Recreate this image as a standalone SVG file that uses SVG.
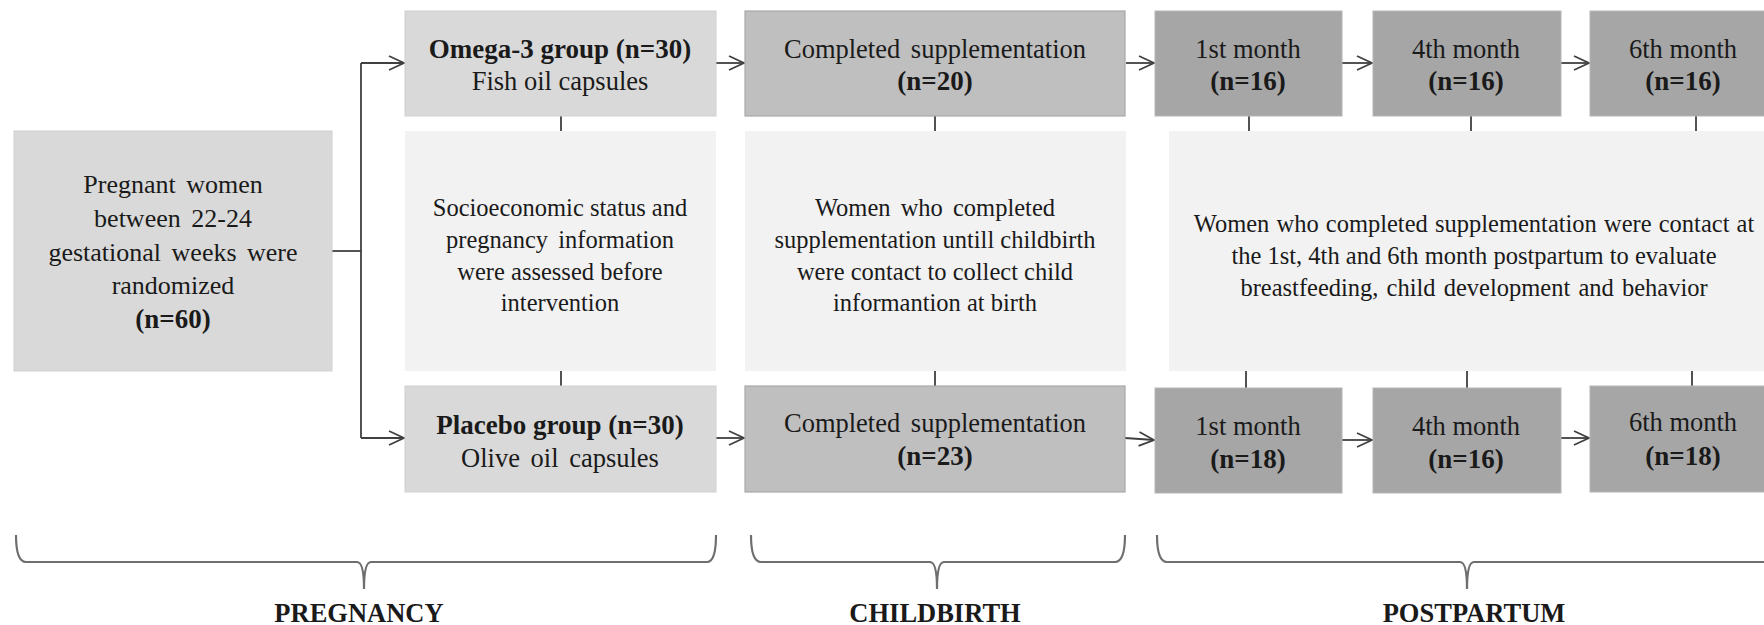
<svg xmlns="http://www.w3.org/2000/svg" width="1764" height="625" viewBox="0 0 1764 625">
<style>
text{font-family:"Liberation Serif","Times New Roman",serif;fill:#1a1a1a;text-anchor:middle}
.h{font-size:26.5px}
.b{font-size:27px;font-weight:bold}
.m{font-size:24.5px}
.l{font-size:26px;word-spacing:4px}
.lab{font-size:26.5px;font-weight:bold}
.g1{fill:#d9d9d9;stroke:#d0d0d0;stroke-width:1}
.g2{fill:#bfbfbf;stroke:#a9a9a9;stroke-width:1.2}
.g3{fill:#a6a6a6;stroke:#b5b5b5;stroke-width:1}
.g4{fill:#f2f2f2}
.c{stroke:#404040;stroke-width:1.8;fill:none}
.br{stroke:#6e6e6e;stroke-width:2.2;fill:none}
</style>
<defs>
<marker id="arr" markerUnits="userSpaceOnUse" markerWidth="20" markerHeight="20" refX="16" refY="8" orient="auto">
<path d="M1,1 L16,8 L1,15" fill="none" stroke="#404040" stroke-width="1.8"/>
</marker>
</defs>

<g id="connectors">
<path class="c" d="M332,251 H361"/>
<path class="c" d="M361,63 V438"/>
<path class="c" d="M361,63 H404" marker-end="url(#arr)"/>
<path class="c" d="M361,438 H404" marker-end="url(#arr)"/>
<path class="c" d="M716,63 H744" marker-end="url(#arr)"/>
<path class="c" d="M1126,63 H1154" marker-end="url(#arr)"/>
<path class="c" d="M1342,63 H1372" marker-end="url(#arr)"/>
<path class="c" d="M1561,63 H1589" marker-end="url(#arr)"/>
<path class="c" d="M716,438 H744" marker-end="url(#arr)"/>
<path class="c" d="M1125,438 L1154,440" marker-end="url(#arr)"/>
<path class="c" d="M1342,440 H1372" marker-end="url(#arr)"/>
<path class="c" d="M1561,438 H1589" marker-end="url(#arr)"/>
<path class="c" d="M561,116 V131 M561,371 V386 M935,116 V131 M935,371 V386 M1249,116 V131 M1246,371 V388 M1471,116 V131 M1467,371 V388 M1696,116 V131 M1692,371 V386" stroke-width="1.5"/>
</g>

<g id="start">
<rect class="g1" x="14" y="131" width="318" height="240"/>
<text class="l" x="173" y="193">Pregnant women</text>
<text class="l" x="173" y="227">between 22-24</text>
<text class="l" x="173" y="261">gestational weeks were</text>
<text class="l" x="173" y="294">randomized</text>
<text class="b" x="173" y="328" font-size="26">(n=60)</text>
</g>

<g id="omega">
<rect class="g1" x="405" y="11" width="311" height="105"/>
<text class="b" x="560" y="58">Omega-3 group (n=30)</text>
<text class="h" x="560" y="90">Fish oil capsules</text>
</g>

<g id="placebo">
<rect class="g1" x="405" y="386" width="311" height="106"/>
<text class="b" x="560" y="434">Placebo group (n=30)</text>
<text class="h" x="560" y="467" style="word-spacing:4px">Olive oil capsules</text>
</g>

<g id="socio">
<rect class="g4" x="405" y="131" width="311" height="240"/>
<text class="m" x="560" y="216">Socioeconomic status and</text>
<text class="m" x="560" y="248" style="word-spacing:4px">pregnancy information</text>
<text class="m" x="560" y="280">were assessed before</text>
<text class="m" x="560" y="311">intervention</text>
</g>

<g id="completed-omega">
<rect class="g2" x="745" y="11" width="380" height="105"/>
<text class="h" x="935" y="58" style="word-spacing:4px">Completed supplementation</text>
<text class="b" x="935" y="90">(n=20)</text>
</g>

<g id="completed-placebo">
<rect class="g2" x="745" y="386" width="380" height="106"/>
<text class="h" x="935" y="432" style="word-spacing:4px">Completed supplementation</text>
<text class="b" x="935" y="465">(n=23)</text>
</g>

<g id="childbirth-info">
<rect class="g4" x="745" y="131" width="381" height="240"/>
<text class="m" x="935" y="216" style="word-spacing:4px">Women who completed</text>
<text class="m" x="935" y="248">supplementation untill childbirth</text>
<text class="m" x="935" y="280">were contact to collect child</text>
<text class="m" x="935" y="311">informantion at birth</text>
</g>

<g id="postpartum-info">
<rect class="g4" x="1169" y="131" width="600" height="240"/>
<text class="m" x="1474" y="232" style="word-spacing:1px">Women who completed supplementation were contact at</text>
<text class="m" x="1474" y="264">the 1st, 4th and 6th month postpartum to evaluate</text>
<text class="m" x="1474" y="296" style="word-spacing:2px">breastfeeding, child development and behavior</text>
</g>

<g id="m1-omega">
<rect class="g3" x="1155" y="11" width="187" height="105"/>
<text class="h" x="1248" y="58">1st month</text>
<text class="b" x="1248" y="90">(n=16)</text>
</g>
<g id="m4-omega">
<rect class="g3" x="1373" y="11" width="188" height="105"/>
<text class="h" x="1466" y="58">4th month</text>
<text class="b" x="1466" y="90">(n=16)</text>
</g>
<g id="m6-omega">
<rect class="g3" x="1590" y="11" width="187" height="105"/>
<text class="h" x="1683" y="58">6th month</text>
<text class="b" x="1683" y="90">(n=16)</text>
</g>

<g id="m1-placebo">
<rect class="g3" x="1155" y="388" width="187" height="105"/>
<text class="h" x="1248" y="435">1st month</text>
<text class="b" x="1248" y="468">(n=18)</text>
</g>
<g id="m4-placebo">
<rect class="g3" x="1373" y="388" width="188" height="105"/>
<text class="h" x="1466" y="435">4th month</text>
<text class="b" x="1466" y="468">(n=16)</text>
</g>
<g id="m6-placebo">
<rect class="g3" x="1590" y="386" width="187" height="106"/>
<text class="h" x="1683" y="431">6th month</text>
<text class="b" x="1683" y="465">(n=18)</text>
</g>

<g id="phases">
<path class="br" d="M16,535 Q16,562 26,562 L357,562 Q364,562 364,589 Q364,562 371,562 L707,562 Q716,562 716,535"/>
<path class="br" d="M751,535 Q751,562 761,562 L930,562 Q937,562 937,589 Q937,562 944,562 L1115,562 Q1125,562 1125,535"/>
<path class="br" d="M1157,535 Q1157,562 1167,562 L1460,562 Q1467,562 1467,589 Q1467,562 1474,562 L1770,562"/>
<text class="lab" x="359" y="622">PREGNANCY</text>
<text class="lab" x="935" y="622">CHILDBIRTH</text>
<text class="lab" x="1474" y="622">POSTPARTUM</text>
</g>
</svg>
